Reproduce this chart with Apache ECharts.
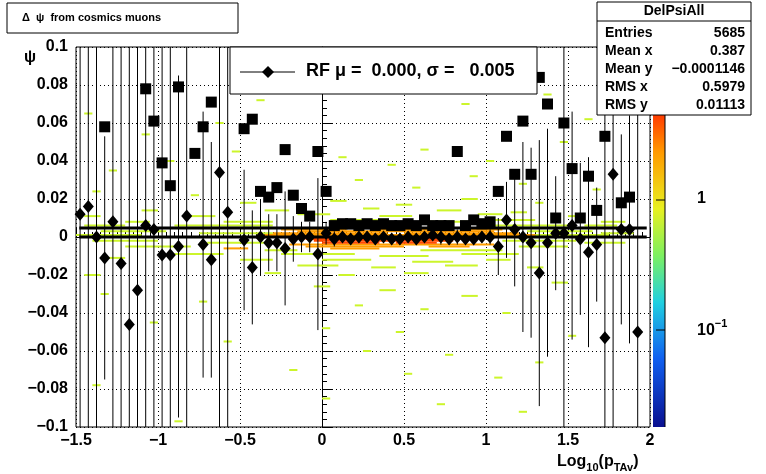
<!DOCTYPE html>
<html>
<head>
<meta charset="utf-8">
<script src="https://cdn.jsdelivr.net/npm/echarts@6/dist/echarts.min.js"></script>
<style>
  html, body { margin: 0; padding: 0; background: #fff; }
  #main { width: 766px; height: 474px; }
</style>
</head>
<body>
<div id="main"></div>
<script>
// 均值点 [x, y, err]
var meanPoints = [
    [-1.475, 0.012, 0.2], [-1.425, 0.016, 0.2], [-1.375, 0.000, 0.2], [-1.325, -0.011, 0.064],
    [-1.275, 0.008, 0.2], [-1.225, -0.014, 0.2], [-1.175, -0.046, 0.2], [-1.125, -0.028, 0.2],
    [-1.075, 0.006, 0.2], [-1.025, 0.004, 0.2], [-0.975, -0.0095, 0.2], [-0.925, -0.0095, 0.2],
    [-0.875, -0.005, 0.09], [-0.825, 0.011, 0.2], [-0.725, -0.004, 0.07], [-0.675, -0.012, 0.062],
    [-0.625, 0.034, 0.2], [-0.575, 0.013, 0.2], [-0.475, -0.0016, 0.037], [-0.425, -0.016, 0.03],
    [-0.375, 0.000, 0.02], [-0.325, -0.003, 0.015], [-0.275, -0.003, 0.015], [-0.225, -0.006, 0.03],
    [-0.175, -0.001, 0.012], [-0.125, 0.000, 0.008], [-0.075, 0.000, 0.008], [-0.025, -0.009, 0.04],
    [0.025, 0.002, 0.006], [0.075, -0.001, 0.004], [0.125, 0.000, 0.003], [0.175, -0.001, 0.003],
    [0.225, 0.000, 0.003], [0.275, 0.000, 0.003], [0.325, -0.001, 0.003], [0.375, 0.000, 0.003],
    [0.425, -0.001, 0.003], [0.475, -0.001, 0.003], [0.525, 0.000, 0.003], [0.575, -0.001, 0.003],
    [0.625, 0.000, 0.003], [0.675, 0.001, 0.003], [0.725, 0.000, 0.004], [0.775, -0.001, 0.003],
    [0.825, 0.000, 0.004], [0.875, -0.001, 0.003], [0.925, -0.001, 0.003], [0.975, 0.000, 0.003],
    [1.025, 0.000, 0.004],
    [1.075, -0.005, 0.015], [1.125, 0.009, 0.02], [1.175, 0.004, 0.03], [1.225, 0.000, 0.05],
    [1.275, -0.003, 0.05], [1.325, -0.019, 0.07], [1.375, -0.003, 0.06], [1.425, 0.002, 0.03],
    [1.475, 0.002, 0.2], [1.525, 0.006, 0.06], [1.575, -0.001, 0.04], [1.625, -0.008, 0.05],
    [1.675, -0.004, 0.03], [1.725, -0.053, 0.2], [1.775, 0.033, 0.2], [1.825, 0.004, 0.05],
    [1.875, 0.004, 0.06], [1.925, -0.050, 0.2]
];

// RMS 点 [x, y]
var rmsPoints = [
    [-1.325, 0.058], [-1.075, 0.078], [-1.025, 0.061], [-0.975, 0.039], [-0.925, 0.027],
    [-0.875, 0.079], [-0.775, 0.044], [-0.725, 0.058], [-0.675, 0.071], [-0.475, 0.057],
    [-0.425, 0.062], [-0.375, 0.024], [-0.325, 0.021], [-0.275, 0.026], [-0.225, 0.046],
    [-0.175, 0.022], [-0.125, 0.015], [-0.075, 0.011], [-0.025, 0.045], [0.025, 0.024],
    [0.075, 0.006], [0.125, 0.007], [0.175, 0.007], [0.225, 0.006], [0.275, 0.007],
    [0.325, 0.006], [0.375, 0.007], [0.425, 0.006], [0.475, 0.006], [0.525, 0.007],
    [0.575, 0.006], [0.625, 0.009], [0.675, 0.006], [0.725, 0.006], [0.775, 0.006],
    [0.825, 0.045], [0.875, 0.006], [0.925, 0.009], [0.975, 0.007], [1.025, 0.008],
    [1.075, 0.024], [1.125, 0.053], [1.175, 0.033], [1.225, 0.061], [1.275, 0.033],
    [1.325, 0.084], [1.375, 0.070], [1.425, 0.010], [1.475, 0.060], [1.525, 0.036],
    [1.575, 0.010], [1.625, 0.032], [1.675, 0.014], [1.725, 0.053], [1.775, 0.092],
    [1.825, 0.018], [1.875, 0.021]
];

// 二维直方图背景 [x0, x1, y, 等级]
var heatRuns = [
    [-1.45, -1.40, 0.065, 1], [-1.10, -1.05, 0.054, 1], [-0.65, -0.60, 0.060, 1], [-0.40, -0.35, 0.072, 1],
    [0.75, 0.80, 0.078, 1], [0.85, 0.90, 0.070, 1], [1.35, 1.40, 0.075, 1], [1.60, 1.65, 0.062, 1],
    [-1.30, -1.25, 0.035, 1], [-0.95, -0.90, 0.040, 1], [-0.55, -0.50, 0.045, 1], [0.10, 0.15, 0.042, 1],
    [0.40, 0.45, 0.038, 1], [0.60, 0.65, 0.046, 1], [1.00, 1.05, 0.040, 1], [1.45, 1.50, 0.050, 1],
    [-1.40, -1.35, 0.024, 1], [-0.80, -0.75, 0.022, 1], [-0.30, -0.25, 0.028, 1], [0.20, 0.25, 0.030, 1],
    [0.55, 0.60, 0.026, 1], [0.90, 0.95, 0.032, 1], [1.20, 1.25, 0.028, 1], [1.65, 1.70, 0.025, 1],
    [-0.50, -0.40, 0.018, 1], [0.05, 0.15, 0.019, 1], [0.45, 0.55, 0.017, 1], [0.85, 0.95, 0.020, 1], [1.30, 1.35, 0.018, 1],
    [-1.10, -1.00, 0.014, 1], [-0.35, -0.20, 0.014, 1], [0.25, 0.35, 0.015, 1], [0.70, 0.85, 0.014, 1], [1.15, 1.25, 0.013, 1],
    [-1.45, -1.35, 0.011, 1], [-0.80, -0.65, 0.011, 1], [-0.15, 0.05, 0.012, 1], [0.35, 0.55, 0.011, 1], [0.95, 1.10, 0.012, 1], [1.50, 1.60, 0.011, 1],
    [-1.20, -1.05, 0.008, 1], [-0.60, -0.30, 0.008, 1], [0.05, 0.40, 0.009, 1], [0.60, 0.90, 0.008, 1], [1.05, 1.30, 0.009, 1], [1.70, 1.85, 0.008, 1],
    [-1.45, -1.20, 0.006, 1], [-0.90, -0.30, 0.006, 1], [1.05, 1.50, 0.006, 1], [1.60, 1.80, 0.006, 1],
    [-1.35, -0.95, 0.003, 1], [-0.75, -0.30, 0.002, 1], [1.25, 1.65, 0.003, 1], [1.70, 1.90, 0.002, 1],
    [-1.50, -1.10, 0.001, 1], [-0.95, -0.40, 0.000, 1], [1.30, 1.75, 0.001, 1],
    [-1.40, -1.00, -0.002, 1], [-0.70, -0.25, -0.003, 1], [1.10, 1.55, -0.002, 1], [1.60, 1.85, -0.003, 1],
    [-1.20, -0.80, -0.005, 1], [-0.35, -0.15, -0.007, 1], [0.60, 1.10, -0.007, 1], [1.20, 1.50, -0.005, 1],
    [-0.90, -0.60, -0.009, 1], [-0.25, 0.20, -0.009, 1], [0.35, 0.65, -0.010, 1], [0.85, 1.20, -0.009, 1],
    [-1.35, -1.20, -0.011, 1], [-0.50, -0.30, -0.012, 1], [0.00, 0.30, -0.012, 1], [0.55, 0.80, -0.013, 1], [1.00, 1.15, -0.012, 1],
    [-0.15, 0.10, -0.015, 1], [0.30, 0.45, -0.016, 1], [0.75, 0.95, -0.015, 1], [1.25, 1.35, -0.016, 1],
    [-1.45, -1.35, -0.020, 1], [-0.35, -0.25, -0.019, 1], [0.10, 0.20, -0.020, 1], [0.50, 0.65, -0.019, 1], [1.40, 1.50, -0.024, 1],
    [-1.35, -1.30, -0.030, 1], [-0.05, 0.05, -0.026, 1], [0.35, 0.45, -0.028, 1], [0.85, 0.95, -0.031, 1], [-0.75, -0.70, -0.034, 1],
    [0.20, 0.25, -0.036, 1], [0.60, 0.65, -0.038, 1], [1.10, 1.15, -0.040, 1], [-1.05, -1.00, -0.045, 1],
    [0.00, 0.05, -0.048, 1], [0.45, 0.50, -0.050, 1], [1.50, 1.55, -0.052, 1], [-0.60, -0.55, -0.055, 1],
    [0.25, 0.30, -0.060, 1], [0.75, 0.80, -0.062, 1], [1.30, 1.35, -0.066, 1], [-0.20, -0.15, -0.070, 1],
    [0.50, 0.55, -0.072, 1], [1.05, 1.10, -0.074, 1], [-1.40, -1.35, -0.078, 1], [0.00, 0.05, -0.085, 1],
    [0.70, 0.75, -0.088, 1], [1.20, 1.25, -0.092, 1], [-0.90, -0.85, -0.097, 1],
    [-0.25, 0.15, 0.004, 2], [0.30, 0.80, 0.004, 2], [0.90, 1.10, 0.004, 2],
    [-0.15, 1.05, 0.003, 2], [-0.30, 0.40, 0.002, 2], [0.50, 1.20, 0.002, 2], [-0.35, 1.30, 0.001, 2],
    [-0.20, 1.05, -0.004, 2], [-0.10, 0.50, -0.005, 2], [0.65, 0.90, -0.005, 2], [0.05, 0.35, -0.006, 2],
    [-0.60, -0.45, -0.006, 2], [1.10, 1.40, 0.000, 2], [-1.30, -1.20, 0.000, 2],
    [-0.05, 1.00, 0.000, 3], [-0.10, 0.95, -0.001, 3], [-0.05, 0.80, -0.002, 3], [0.00, 0.35, -0.003, 3], [0.45, 0.70, -0.003, 3]
];

var heatColors = ['', '#ccf52b', '#ff9d00', '#ff4a00'];
var fitLines = [0.0047, 0.0];

var font = 'Liberation Sans, Arial, sans-serif';
function minus(v) {
    return String(v).replace('-', '\u2212');
}

var fitSeries = fitLines.map(function(v) {
    return {
        type: 'line', silent: true, symbol: 'none',
        data: [[-1.48, v], [1.98, v]],
        lineStyle: { color: '#000', width: 3 },
        z: 6
    };
});

var myChart = echarts.init(document.getElementById('main'));
var option = {
    animation: false,
    grid: { left: 76, right: 116, top: 47, bottom: 47, show: true, borderColor: '#000', borderWidth: 1, backgroundColor: 'transparent' },
    xAxis: {
        type: 'value', min: -1.5, max: 2, interval: 0.5,
        axisLine: { lineStyle: { color: '#000' } },
        axisTick: { inside: true, length: 10, lineStyle: { color: '#000' } },
        minorTick: { show: true, splitNumber: 10, length: 5, lineStyle: { color: '#000' } },
        axisLabel: { color: '#000', fontFamily: font, fontWeight: 'bold', fontSize: 16, margin: 6,
            formatter: function(v) { return minus(v); } },
        splitLine: { show: true, lineStyle: { color: '#000', type: [1, 3], width: 1 } }
    },
    yAxis: {
        type: 'value', min: -0.1, max: 0.1, interval: 0.02,
        axisLine: { lineStyle: { color: '#000' } },
        axisTick: { inside: true, length: 10, lineStyle: { color: '#000' } },
        minorTick: { show: true, splitNumber: 5, length: 5, lineStyle: { color: '#000' } },
        axisLabel: { color: '#000', fontFamily: font, fontWeight: 'bold', fontSize: 16, margin: 8,
            formatter: function(v) { return minus(Math.round(v * 100) / 100); } },
        splitLine: { show: true, lineStyle: { color: '#000', type: [1, 3], width: 1 } }
    },
    series: [{
        type: 'custom',
        clip: true,
        data: heatRuns,
        renderItem: function(params, api) {
            var p0 = api.coord([api.value(0), api.value(2)]);
            var p1 = api.coord([api.value(1), api.value(2)]);
            return {
                type: 'rect',
                shape: { x: p0[0], y: p0[1] - 1, width: p1[0] - p0[0], height: 2 },
                style: { fill: heatColors[api.value(3)] }
            };
        },
        z: 1
    }, {
        type: 'custom',
        clip: true,
        data: meanPoints,
        renderItem: function(params, api) {
            var x = api.value(0), y = api.value(1), e = api.value(2);
            var a = api.coord([x, Math.max(y - e, -0.1)]);
            var b = api.coord([x, Math.min(y + e, 0.1)]);
            return {
                type: 'line',
                shape: { x1: a[0], y1: a[1], x2: b[0], y2: b[1] },
                style: { stroke: '#000', lineWidth: 1 }
            };
        },
        z: 3
    }, {
        type: 'scatter',
        data: rmsPoints,
        symbol: 'rect', symbolSize: 11,
        itemStyle: { color: '#000', opacity: 1 },
        z: 4
    }, {
        type: 'scatter',
        data: meanPoints.map(function(p) { return [p[0], p[1]]; }),
        symbol: 'diamond', symbolSize: [11, 13],
        itemStyle: { color: '#000', opacity: 1 },
        z: 5
    }].concat(fitSeries),
    graphic: [
        // 标题框
        { type: 'rect', shape: { x: 7, y: 3, width: 231, height: 30 },
          style: { fill: '#fff', stroke: '#000', lineWidth: 1 }, z: 10 },
        { type: 'text', x: 22, y: 12, z: 11,
          style: { text: '\u0394  \u03c8  from cosmics muons', font: 'bold 11px ' + font, fill: '#000' } },
        // 图例框
        { type: 'rect', shape: { x: 230, y: 47, width: 307, height: 47 },
          style: { fill: '#fff', stroke: '#000', lineWidth: 1 }, z: 10 },
        { type: 'line', shape: { x1: 240, y1: 72, x2: 295, y2: 72 }, style: { stroke: '#000', lineWidth: 1 }, z: 11 },
        { type: 'polygon', shape: { points: [[268, 66], [274, 72], [268, 78], [262, 72]] }, style: { fill: '#000' }, z: 11 },
        { type: 'text', x: 306, y: 62, z: 11,
          style: { text: 'RF \u03bc =  0.000, \u03c3 =   0.005', font: 'bold 18px ' + font, fill: '#000' } },
        // 统计框
        { type: 'rect', shape: { x: 597, y: 2, width: 154, height: 113 },
          style: { fill: '#fff', stroke: '#000', lineWidth: 1 }, z: 10 },
        { type: 'line', shape: { x1: 597, y1: 21, x2: 751, y2: 21 }, style: { stroke: '#000' }, z: 11 },
        { type: 'text', x: 674, y: 4, z: 11,
          style: { text: 'DelPsiAll', font: 'bold 14px ' + font, fill: '#000', align: 'center' } },
        { type: 'text', x: 605, y: 24, z: 11,
          style: { text: 'Entries\nMean x\nMean y\nRMS x\nRMS y', font: 'bold 14px ' + font, lineHeight: 18, fill: '#000' } },
        { type: 'text', x: 745, y: 24, z: 11,
          style: { text: '5685\n0.387\n\u22120.0001146\n0.5979\n0.01113', font: 'bold 14px ' + font, lineHeight: 18, fill: '#000', align: 'right' } },
        // 色标
        { type: 'rect', shape: { x: 653, y: 115, width: 12, height: 312 }, z: 6,
          style: { fill: new echarts.graphic.LinearGradient(0, 0, 0, 1, [
              { offset: 0, color: '#ff3c00' }, { offset: 0.12, color: '#ff9a00' },
              { offset: 0.3, color: '#e8f020' }, { offset: 0.45, color: '#7df060' },
              { offset: 0.6, color: '#20d0e0' }, { offset: 0.78, color: '#1060f0' },
              { offset: 1, color: '#0a1090' }]) } },
        { type: 'line', shape: { x1: 665, y1: 115, x2: 665, y2: 427 }, style: { stroke: '#000' }, z: 7 },
        { type: 'line', shape: { x1: 656, y1: 200, x2: 665, y2: 200 }, style: { stroke: '#000' }, z: 7 },
        { type: 'line', shape: { x1: 656, y1: 330, x2: 665, y2: 330 }, style: { stroke: '#000' }, z: 7 },
        { type: 'text', x: 697, y: 191, z: 7, style: { text: '1', font: 'bold 16px ' + font, fill: '#000' } },
        { type: 'text', x: 697, y: 318, z: 7,
          style: { text: '{b|10}{s|\u22121}', rich: {
              b: { font: 'bold 16px ' + font, fill: '#000', verticalAlign: 'bottom' },
              s: { font: 'bold 11px ' + font, fill: '#000', padding: [0, 0, 10, 0] } } } },
        // 坐标轴标题
        { type: 'text', x: 24, y: 50, z: 7, style: { text: '\u03c8', font: 'bold 16px ' + font, fill: '#000' } },
        { type: 'text', x: 557, y: 450, z: 7,
          style: { text: '{b|Log}{s|10}{b|(p}{s|TAv}{b|)}', rich: {
              b: { font: 'bold 16px ' + font, fill: '#000' },
              s: { font: 'bold 11px ' + font, fill: '#000', padding: [12, 0, 0, 0] } } } }
    ]
};
myChart.setOption(option);
</script>
</body>
</html>
